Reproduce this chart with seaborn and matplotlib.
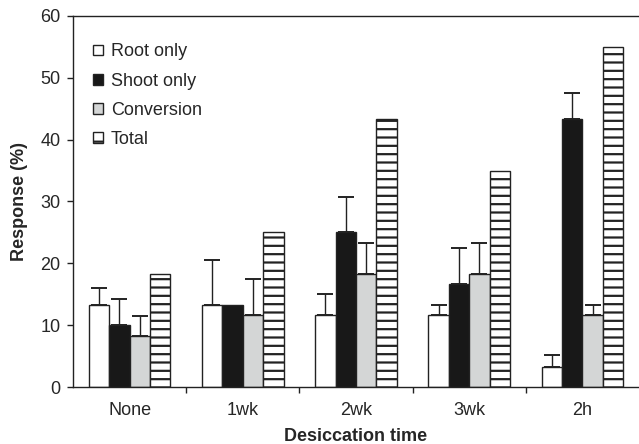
import matplotlib
matplotlib.use("Agg")
import matplotlib.pyplot as plt
import seaborn as sns
import pandas as pd
import numpy as np

categories = ["None", "1wk", "2wk", "3wk", "2h"]
series = ["Root only", "Shoot only", "Conversion", "Total"]
root_only = [13.3, 13.3, 11.7, 11.7, 3.3]
shoot_only = [10.0, 13.3, 25.0, 16.7, 43.3]
conversion = [8.3, 11.7, 18.3, 18.3, 11.7]
total = [18.3, 25.0, 43.3, 35.0, 55.0]
root_err = [2.7, 7.3, 3.3, 1.6, 1.9]
shoot_err = [4.3, 0.0, 5.8, 5.7, 4.2]
conv_err = [3.2, 5.7, 5.0, 5.0, 1.6]
total_err = [0, 0, 0, 0, 0]

sns.set_style("white")
plt.rcParams["font.family"] = ["Liberation Sans", "DejaVu Sans"]
plt.rcParams["hatch.linewidth"] = 1.6
plt.rcParams["hatch.color"] = "#111111"

rows = []
for s, vals, errs in zip(series, [root_only, shoot_only, conversion, total],
                         [root_err, shoot_err, conv_err, total_err]):
    for c, v, e in zip(categories, vals, errs):
        rows.append({"cat": c, "series": s, "val": v, "err": e})
df = pd.DataFrame(rows)

colors = {"Root only": "#ffffff", "Shoot only": "#181818",
          "Conversion": "#d4d6d6", "Total": "#ffffff"}

FS = 13

fig = plt.figure(figsize=(6.39, 4.44), dpi=100)
ax = fig.add_axes([73/639, 1-387/444, 1-73/639, (387-16)/444])

sns.barplot(data=df, x="cat", y="val", hue="series", order=categories,
            hue_order=series, palette=colors, width=0.72, gap=0,
            errorbar=None, edgecolor="#222222", linewidth=1.0, ax=ax,
            legend=True)

for si, s in enumerate(series):
    cont = ax.containers[si]
    errs = df[df.series == s]["err"].tolist()
    for bar, e in zip(cont, errs):
        if s == "Total":
            bar.set_hatch("--")
        if e > 0:
            xc = bar.get_x() + bar.get_width() / 2
            h = bar.get_height()
            ax.errorbar([xc], [h], yerr=[[0], [e]], fmt="none",
                        ecolor="#222222", elinewidth=1.0, capsize=6,
                        capthick=1.4)

ax.set_ylim(0, 60)
ax.set_xlim(-0.5, 4.5)
ax.set_yticks(range(0, 61, 10))
ax.set_xticks(np.arange(0.5, 4.5, 1.0), minor=True)
ax.tick_params(axis="x", which="major", length=0, labelsize=FS, pad=11)
ax.tick_params(axis="x", which="minor", length=4, width=1, color="#222222",
               direction="out", bottom=True)
ax.tick_params(axis="y", length=4, width=1, color="#222222", direction="out",
               left=True, labelsize=FS, pad=5)
ax.set_xlabel("Desiccation time", fontsize=FS, fontweight="bold", labelpad=6)
ax.set_ylabel("Response (%)", fontsize=FS, fontweight="bold", labelpad=9)
for sp in ["left", "bottom", "top"]:
    ax.spines[sp].set_color("#222222")
    ax.spines[sp].set_linewidth(1.0)
ax.spines["right"].set_visible(False)

handles, labels = ax.get_legend_handles_labels()
for h in handles:
    h.set_edgecolor("#222222")
handles[3].set_hatch("-")
leg = ax.legend(handles, labels, loc="upper left", bbox_to_anchor=(0.006, 0.97),
                frameon=False, fontsize=FS, handlelength=0.55,
                handleheight=0.55, labelspacing=0.68, handletextpad=0.45)

fig.savefig("out.png", dpi=100)
